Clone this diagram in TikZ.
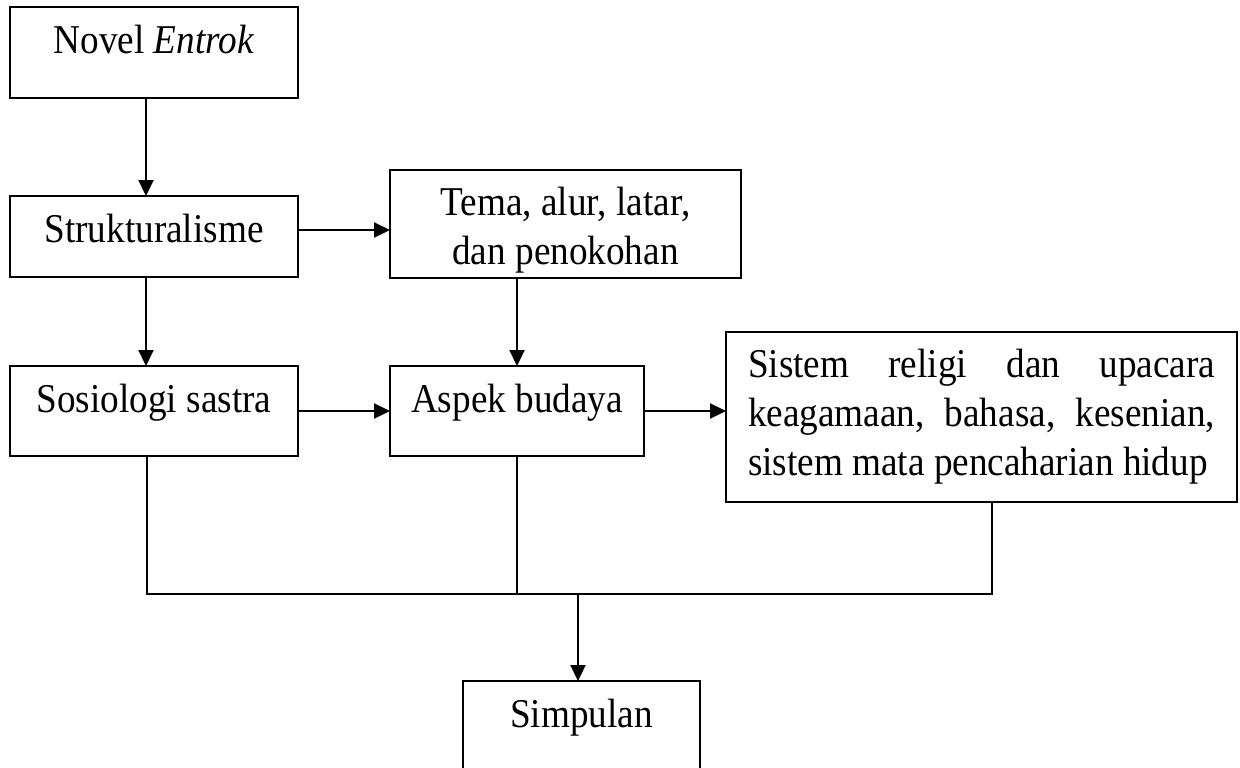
\documentclass[tikz,border=0pt]{standalone}
\usepackage{fontspec}
\usepackage{graphicx}
\setmainfont{Liberation Serif}
\usetikzlibrary{arrows.meta}
\newcommand{\tall}[1]{\scalebox{1}[1.1]{#1}}

\begin{document}
\begin{tikzpicture}[x=0.5pt,y=-0.5pt,
  every node/.style={font=\fontsize{18.6pt}{22.3pt}\selectfont},
  box/.style={draw,line width=1pt,inner xsep=0pt,inner ysep=0pt,outer sep=0pt,anchor=base},
  arr/.style={line width=1.1pt,-{Triangle[length=8pt,width=7.5pt]}},
  merge/.style={line width=0.7pt}]
\useasboundingbox (0,0) rectangle (1240,767);
% boxes
\node[box,minimum width=144pt,text height=23pt,text depth=22.5pt] (novel) at (154,53) {\tall{Novel \textit{Entrok}}};
\node[box,minimum width=144pt,text height=23pt,text depth=17.5pt] (struk) at (154,242) {\tall{Strukturalisme}};
\node[box,minimum width=175.5pt,text height=22.5pt,text depth=31.5pt] (tema) at (565.5,215)
  {\tall{\parbox[t]{170pt}{\centering Tema, alur, latar,\\dan penokohan}}};
\node[box,minimum width=144pt,text height=23pt,text depth=22pt] (sosio) at (154,412) {\tall{Sosiologi sastra}};
\node[box,minimum width=127pt,text height=23pt,text depth=22pt] (aspek) at (517,412) {\tall{Aspek budaya}};
\node[box,minimum width=255.5pt,text height=22.5pt,text depth=62.5pt] (sistem) at (981.5,377)
  {\tall{\parbox[t]{233.5pt}{Sistem religi dan upacara\linebreak keagamaan, bahasa, kesenian,\linebreak sistem mata pencaharian hidup}}};
\node[box,minimum width=118.5pt,text height=23pt,text depth=40pt] (simpulan) at (581.5,727) {\tall{Simpulan}};
% arrows
\draw[arr] ([xshift=-4pt]novel.south) -- ([xshift=-4pt]struk.north);
\coordinate (s1) at ([yshift=3.25pt]struk.east);
\draw[arr] (s1) -- (s1 -| tema.west);
\draw[arr] (tema.south -| aspek.north) -- (aspek.north);
\draw[arr] ([xshift=-4pt]struk.south) -- ([xshift=-4pt]sosio.north);
\draw[arr] (sosio.east) -- (sosio.east -| aspek.west);
\draw[arr] (aspek.east) -- (aspek.east -| sistem.west);
% merge to simpulan
\coordinate (j) at (578,594);
\coordinate (sl) at ([xshift=-3.5pt]sosio.south);
\coordinate (sr) at ([xshift=5.25pt]sistem.south);
\draw[merge] (sl) |- (j) -| (sr);
\draw[merge] (aspek.south) -- (aspek.south |- j);
\draw[arr] (j) -- (j |- simpulan.north);
\end{tikzpicture}
\end{document}
